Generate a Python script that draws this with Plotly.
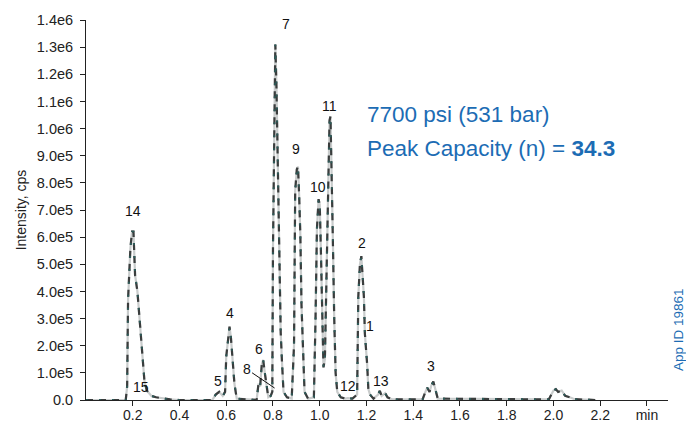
import plotly.graph_objects as go

# Retention time (min) and intensity (x1e5 cps)
time_min = [0.00, 0.17, 0.176, 0.18, 0.19, 0.197, 0.203, 0.21, 0.22, 0.23, 0.24, 0.25, 0.26, 0.28, 0.30, 0.33, 0.36, 0.40,
            0.54, 0.555, 0.57, 0.585, 0.595, 0.60, 0.607, 0.614, 0.62, 0.627, 0.635, 0.645,
            0.73, 0.738, 0.745, 0.752, 0.758, 0.765, 0.772, 0.78, 0.79, 0.797,
            0.80, 0.806, 0.81, 0.815, 0.822, 0.827, 0.833, 0.838, 0.845, 0.86, 0.88,
            0.89, 0.895, 0.902, 0.907, 0.912, 0.917, 0.922, 0.927, 0.935, 0.95,
            0.975, 0.982, 0.988, 0.995, 1.0, 1.005, 1.01, 1.016,
            1.022, 1.027, 1.032, 1.036, 1.042, 1.046, 1.05, 1.056, 1.062, 1.068, 1.075, 1.09,
            1.11, 1.12, 1.14, 1.16, 1.165, 1.172, 1.178, 1.184, 1.189, 1.193, 1.198, 1.203, 1.208, 1.215, 1.23,
            1.25, 1.257, 1.265, 1.28, 1.29, 1.31,
            1.44, 1.452, 1.46, 1.47, 1.478, 1.486, 1.495, 1.505,
            1.98, 1.99, 2.0, 2.01, 2.02, 2.035, 2.05, 2.07, 2.09, 2.18]
intensity_e5 = [0.0, 0.0, 0.5, 3.7, 5.6, 6.2, 6.2, 4.6, 4.0, 2.8, 1.9, 0.7, 0.35, 0.15, 0.1, 0.05, 0.02, 0.0,
                0.0, 0.2, 0.3, 0.15, 0.3, 1.6, 2.2, 2.7, 2.3, 1.5, 0.6, 0.05,
                0.0, 0.6, 0.5, 1.3, 1.48, 1.0, 0.5, 0.1, 0.15, 0.3,
                5.6, 11.0, 13.1, 11.5, 7.5, 5.6, 2.5, 1.5, 0.3, 0.1, 0.05,
                2.0, 7.7, 8.5, 8.6, 7.5, 6.1, 3.5, 2.0, 0.3, 0.05,
                0.1, 3.0, 6.3, 7.4, 7.2, 5.5, 3.7, 1.2,
                1.5, 4.0, 6.5, 8.3, 10.3, 10.45, 9.0, 6.0, 3.0, 1.0, 0.3, 0.1,
                0.05, 0.07, 0.05, 0.2, 3.8, 5.0, 5.3, 4.5, 3.8, 2.46, 2.0, 1.3, 0.4, 0.2, 0.05,
                0.2, 0.34, 0.15, 0.25, 0.1, 0.02,
                0.02, 0.3, 0.45, 0.3, 0.55, 0.68, 0.35, 0.05,
                0.02, 0.2, 0.35, 0.4, 0.3, 0.35, 0.15, 0.1, 0.03, 0.0]
intensity = [v * 1e5 for v in intensity_e5]

# Peak labels: text, time, intensity (x1e5)
peak_labels = ["7", "11", "9", "10", "2", "1", "14", "4", "6", "5", "15", "12", "13", "3"]
label_time = [0.857, 1.043, 0.897, 0.992, 1.18, 1.217, 0.20, 0.614, 0.739, 0.563, 0.237, 1.12, 1.262, 1.476]
label_int_e5 = [13.85, 10.85, 9.26, 7.86, 5.79, 2.73, 6.97, 3.2, 1.88, 0.7, 0.48, 0.52, 0.7, 1.25]

y_tickvals_e5 = [0, 1, 2, 3, 4, 5, 6, 7, 8, 9, 10, 11, 12, 13, 14]
y_ticktext = ["0.0", "1.0e5", "2.0e5", "3.0e5", "4.0e5", "5.0e5", "6.0e5", "7.0e5", "8.0e5", "9.0e5",
              "1.0e6", "1.1e6", "1.2e6", "1.3e6", "1.4e6"]
x_tickvals = [0.2, 0.4, 0.6, 0.8, 1.0, 1.2, 1.4, 1.6, 1.8, 2.0, 2.2, 2.4]
x_ticktext = ["0.2", "0.4", "0.6", "0.8", "1.0", "1.2", "1.4", "1.6", "1.8", "2.0", "2.2", "min"]

BLUE = "#1c6cb4"
FONT = "Liberation Sans, Arial, sans-serif"

fig = go.Figure()
# overlaid replicate traces (rendered as dashed overlays like the original scan)
fig.add_trace(go.Scatter(x=time_min, y=intensity, mode="lines",
                         line=dict(color="#c9cccc", width=2.2), hoverinfo="skip"))
fig.add_trace(go.Scatter(x=time_min, y=intensity, mode="lines",
                         line=dict(color="#3a3d3d", width=2.2, dash="7px,6px"), hoverinfo="skip"))
fig.add_trace(go.Scatter(x=time_min, y=intensity, mode="lines",
                         line=dict(color="#2c5c5a", width=1.8, dash="2px,11px"), hoverinfo="skip"))

annotations = []
for t, x, y in zip(peak_labels, label_time, label_int_e5):
    annotations.append(dict(x=x, y=y * 1e5, text=t, showarrow=False,
                            font=dict(size=14, color="#111", family=FONT), xanchor="center", yanchor="middle"))
# label 8 with leader line
annotations.append(dict(x=0.807, y=0.44e5, ax=0.687, ay=1.14e5, axref="x", ayref="y",
                        text="8", showarrow=True, arrowhead=0, arrowwidth=1, arrowcolor="#111",
                        font=dict(size=14, color="#111", family=FONT)))
annotations.append(dict(xref="paper", yref="paper", x=(365 - 86.7) / (668 - 86.7), y=(400 - 114) / 380,
                        xanchor="left", yanchor="middle", showarrow=False,
                        text="7700 psi (531 bar)", font=dict(size=22.5, color=BLUE, family=FONT)))
annotations.append(dict(xref="paper", yref="paper", x=(365 - 86.7) / (668 - 86.7), y=(400 - 148) / 380,
                        xanchor="left", yanchor="middle", showarrow=False,
                        text="Peak Capacity (n) = <b>34.3</b>", font=dict(size=22.5, color=BLUE, family=FONT)))
annotations.append(dict(xref="paper", yref="paper", x=(678 - 86.7) / (668 - 86.7), y=(400 - 330) / 380,
                        xanchor="center", yanchor="middle", showarrow=False, textangle=-90,
                        text="App ID 19861", font=dict(size=13.5, color=BLUE, family=FONT)))

fig.update_layout(
    width=686, height=422,
    margin=dict(l=86, r=18, t=20, b=22),
    paper_bgcolor="white", plot_bgcolor="white",
    showlegend=False,
    font=dict(family=FONT, color="#222"),
    annotations=annotations,
    xaxis=dict(range=[0, 2.49], showgrid=False, zeroline=False, showline=True, linecolor="#222", linewidth=1,
               automargin=False,
               ticks="outside", ticklen=5, tickcolor="#222", ticklabelstandoff=-3,
               tickvals=x_tickvals, ticktext=x_ticktext,
               tickfont=dict(size=14, color="#222", family=FONT)),
    yaxis=dict(range=[0, 1.4e6], showgrid=False, zeroline=False, showline=True, linecolor="#222", linewidth=1,
               automargin=False,
               ticks="outside", ticklen=5, tickcolor="#222", ticklabelstandoff=4,
               tickvals=[v * 1e5 for v in y_tickvals_e5], ticktext=y_ticktext,
               tickfont=dict(size=14.5, color="#222", family=FONT),
               title=dict(text="Intensity, cps", font=dict(size=14, color="#222", family=FONT), standoff=6)),
)

fig.write_html("out.html")
